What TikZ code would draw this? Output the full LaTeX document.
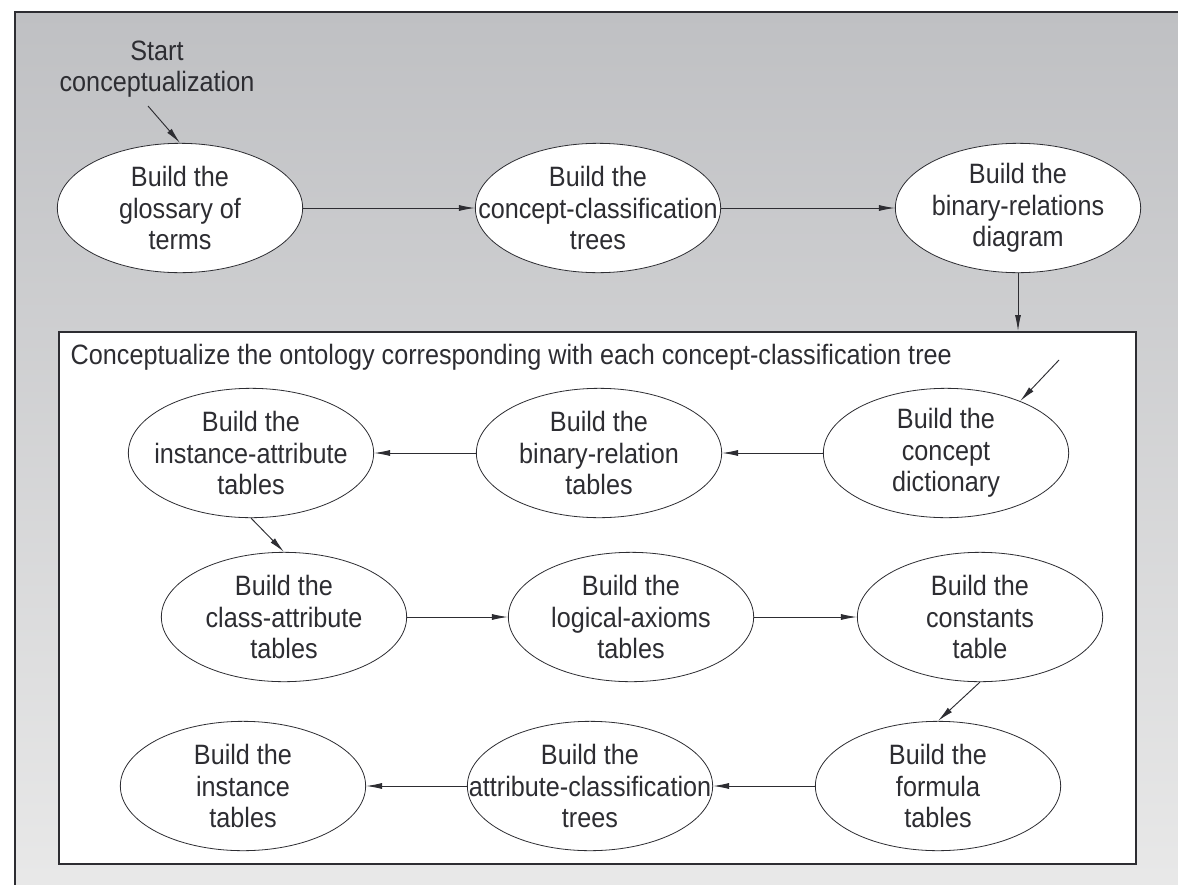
\documentclass[tikz,border=0pt]{standalone}
\usepackage{fontspec}
\setmainfont{Liberation Sans}[FakeStretch=0.9]
\usetikzlibrary{shapes.geometric,arrows.meta,positioning}
\definecolor{inkgray}{RGB}{45,45,50}
\definecolor{bgtop}{RGB}{191,192,195}
\definecolor{bgbot}{RGB}{233,233,233}
\tikzset{
  stepnode/.style={ellipse,draw=inkgray,fill=white,line width=0.6pt,
    minimum width=184pt,minimum height=97pt,inner xsep=-28pt,inner ysep=-3pt,
    align=center,text=inkgray,font=\fontsize{21}{23.6}\selectfont},
  flow/.style={draw=inkgray,line width=0.7pt,-{Latex[length=12pt,width=4.5pt]}},
}

\begin{document}
\begin{tikzpicture}[x=0.75pt,y=-0.75pt]
  \useasboundingbox (0,0) rectangle (1178,885);
  % background panel
  \shade[top color=bgtop,bottom color=bgbot,draw=inkgray,line width=1.2pt]
    (15,12) rectangle (1190,900);

  % top row
  \node[text=inkgray,align=center,font=\fontsize{21}{23.6}\selectfont] (start) at (157,69) {Start\\conceptualization};
  \coordinate (startpt) at (148,106);
  \node[stepnode] (glossary) at (180,208) {Build the\\glossary of\\terms};
  \node[stepnode] (cctrees) at (598,208) {Build the\\concept-classification\\trees};
  \node[stepnode] (brdiagram) at (1018,208) {Build the\\binary-relations\\diagram};

  % inner box
  \node[draw=inkgray,fill=white,line width=1.2pt,anchor=north west,
    minimum width=808pt,minimum height=399pt,inner sep=0pt] (ontbox) at (58,331) {};
  \node[anchor=west,text=inkgray,font=\fontsize{21}{23.6}\selectfont] (boxtitle) at (66,357)
    {Conceptualize the ontology corresponding with each concept-classification tree};
  \coordinate (dictpt) at (1059,360);

  \node[stepnode] (instattr) at (251,453) {Build the\\instance-attribute\\tables};
  \node[stepnode] (brtables) at (599,453) {Build the\\binary-relation\\tables};
  \node[stepnode] (dict) at (946,453) {Build the\\concept\\dictionary};

  \node[stepnode] (classattr) at (284,617) {Build the\\class-attribute\\tables};
  \node[stepnode] (axioms) at (631,617) {Build the\\logical-axioms\\tables};
  \node[stepnode] (constants) at (980,617) {Build the\\constants\\table};

  \node[stepnode] (insttables) at (243,786) {Build the\\instance\\tables};
  \node[stepnode] (actrees) at (590,786) {Build the\\attribute-classification\\trees};
  \node[stepnode] (formula) at (938,786) {Build the\\formula\\tables};

  % arrows
  \draw[flow] (startpt) -- (glossary.north);
  \draw[flow] (glossary) -- (cctrees);
  \draw[flow] (cctrees) -- (brdiagram);
  \draw[flow] (brdiagram.south) -- (brdiagram.south |- ontbox.north);
  \draw[flow] (dictpt) -- (dict.35);
  \draw[flow] (dict) -- (brtables);
  \draw[flow] (brtables) -- (instattr);
  \draw[flow] (instattr.south) -- (classattr.north);
  \draw[flow] (classattr) -- (axioms);
  \draw[flow] (axioms) -- (constants);
  \draw[flow] (constants.south) -- (formula.north);
  \draw[flow] (formula) -- (actrees);
  \draw[flow] (actrees) -- (insttables);
\end{tikzpicture}
\end{document}
